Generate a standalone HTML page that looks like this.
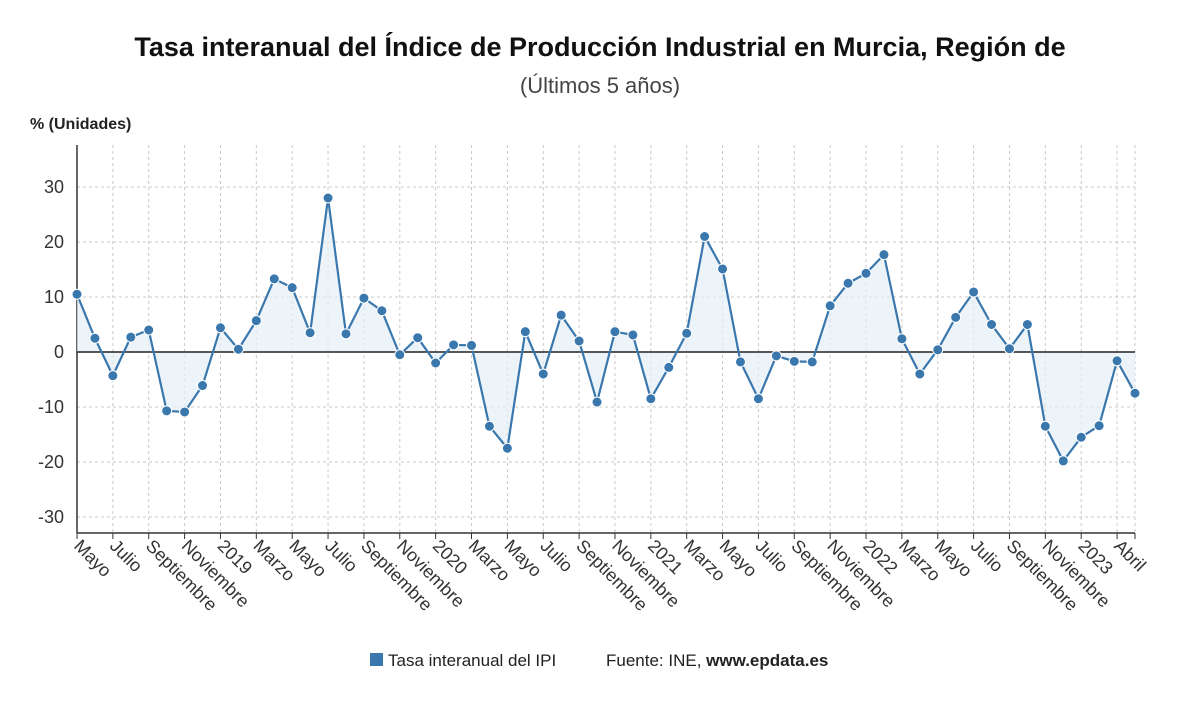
<!DOCTYPE html>
<html><head><meta charset="utf-8"><style>
body{margin:0;background:#fff;font-family:"Liberation Sans",sans-serif;}
</style></head><body>
<svg id="c" width="1200" height="705" xmlns="http://www.w3.org/2000/svg">
<text x="600" y="56" text-anchor="middle" font-size="27" font-weight="bold" fill="#111">Tasa interanual del Índice de Producción Industrial en Murcia, Región de</text>
<text x="600" y="93" text-anchor="middle" font-size="22" fill="#444">(Últimos 5 años)</text>
<text x="30" y="129" font-size="16" font-weight="bold" fill="#222">% (Unidades)</text>
<g id="grid"></g><g id="area"></g><g id="lines"></g><g id="pts"></g><g id="xl"></g><g id="yl"></g>
<rect x="370" y="653" width="13" height="13" fill="#3a77ad"/>
<text x="388" y="666" font-size="17" fill="#222">Tasa interanual del IPI</text>
<text x="606" y="666" font-size="17" fill="#222">Fuente: INE, <tspan font-weight="bold">www.epdata.es</tspan></text>
</svg>
<script>
const values=[10.5,2.5,-4.3,2.7,4,-10.7,-10.9,-6.1,4.4,0.5,5.7,13.3,11.7,3.5,28,3.3,9.8,7.5,-0.5,2.6,-2,1.3,1.2,-13.5,-17.5,3.7,-4,6.7,2,-9.1,3.7,3.1,-8.5,-2.8,3.4,21,15.1,-1.8,-8.5,-0.7,-1.7,-1.8,8.4,12.5,14.3,17.7,2.4,-4,0.4,6.3,10.9,5,0.6,5,-13.5,-19.8,-15.5,-13.4,-1.6,-7.5];
const xLabels=["Mayo","Julio","Septiembre","Noviembre","2019","Marzo","Mayo","Julio","Septiembre","Noviembre","2020","Marzo","Mayo","Julio","Septiembre","Noviembre","2021","Marzo","Mayo","Julio","Septiembre","Noviembre","2022","Marzo","Mayo","Julio","Septiembre","Noviembre","2023","Abril"];
const yTicks=[-30,-20,-10,0,10,20,30];
const NS="http://www.w3.org/2000/svg";
const x0=77,x1=1135,yTop=145,yBot=533;
const X=i=>x0+(x1-x0)*i/(values.length-1);
const Y=v=>352-v*5.5;
function mk(t,a,p){const e=document.createElementNS(NS,t);for(const k in a)e.setAttribute(k,a[k]);document.getElementById(p).appendChild(e);return e;}
for(const t of yTicks){
 const l=mk('line',{x1:x0,x2:x1,y1:Y(t),y2:Y(t),stroke:'#c8c8c8','stroke-dasharray':'3,3'},'grid');
 
 
 const tx=mk('text',{x:64,y:Y(t)+6,'text-anchor':'end','font-size':18,fill:'#333'},'yl');
 tx.textContent=t;
 
 
}
const tickIdx=[];for(let i=0;i<values.length;i+=2)tickIdx.push(i);tickIdx.push(values.length-1);
tickIdx.forEach((idx,k)=>{
 if(idx>0){const g=mk('line',{x1:X(idx),x2:X(idx),y1:yTop,y2:yBot,stroke:'#c8c8c8','stroke-dasharray':'3,3'},'grid');
 
 }
 mk('line',{x1:X(idx),x2:X(idx),y1:yBot,y2:yBot+6,stroke:'#333'},'grid');
 const tx=mk('text',{x:X(idx)-4,y:yBot+14,'font-size':18,fill:'#333',transform:`rotate(45 ${X(idx)-4} ${yBot+14})`},'xl');
 tx.textContent=xLabels[k];
 
 
});
mk('line',{x1:x0,x2:x0,y1:yTop,y2:yBot,stroke:'#333','stroke-width':1.5},'grid');
mk('line',{x1:x0,x2:x1,y1:yBot,y2:yBot,stroke:'#333','stroke-width':1.5},'grid');
let d=`M${X(0)},${Y(0)}`;values.forEach((v,i)=>d+=`L${X(i)},${Y(v)}`);d+=`L${X(values.length-1)},${Y(0)}Z`;
const a=mk('path',{d,fill:'#e6eff7','fill-opacity':0.7},'area');


mk('line',{x1:x0,x2:x1,y1:Y(0),y2:Y(0),stroke:'#222','stroke-width':1.5},'lines');
const ln=mk('polyline',{points:values.map((v,i)=>X(i)+','+Y(v)).join(' '),fill:'none',stroke:'#3a77ad','stroke-width':2.2},'lines');


values.forEach((v,i)=>{
 const c=mk('circle',{cx:X(i),cy:Y(v),r:5,fill:'#3a77ad',stroke:'#fff','stroke-width':1},'pts');
 
 
});
</script>
</body></html>
